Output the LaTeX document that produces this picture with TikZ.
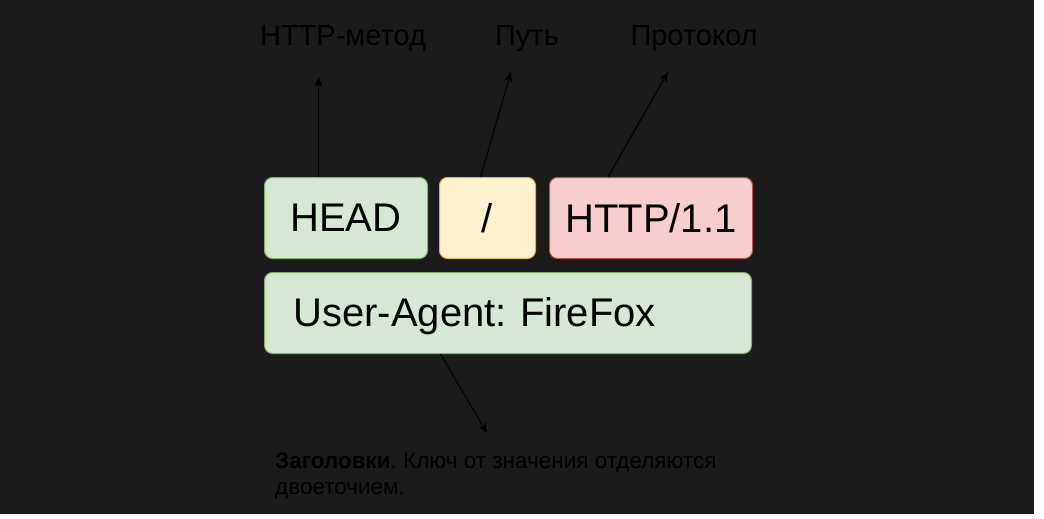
\documentclass[tikz,border=0pt]{standalone}
\usepackage{fontspec}
\setmainfont{Liberation Sans}
\usetikzlibrary{arrows.meta}
\frenchspacing
\definecolor{bgdark}{HTML}{1B1B1B}
\definecolor{gfill}{HTML}{D5E8D4}
\definecolor{gline}{HTML}{82B366}
\definecolor{yfill}{HTML}{FFF2CC}
\definecolor{yline}{HTML}{D6B656}
\definecolor{rfill}{HTML}{F8CECC}
\definecolor{rline}{HTML}{B85450}
\begin{document}
\begin{tikzpicture}[x=1pt,y=-1pt,
  box/.style={line width=1pt, rounded corners=8pt, inner sep=0pt, anchor=north west,
    minimum height=81pt, font=\fontsize{40}{48}\selectfont, text=black},
  greenbox/.style={box, draw=gline, fill=gfill},
  yellowbox/.style={box, draw=yline, fill=yfill},
  redbox/.style={box, draw=rline, fill=rfill},
  lbl/.style={anchor=base, inner sep=0pt, font=\fontsize{29}{34}\selectfont, text=black},
  arr/.style={draw=black, line width=1pt, -{Stealth[length=10pt,width=8pt,inset=3pt]}}]
\useasboundingbox (0,0) rectangle (1044,519);
\fill[white] (0,0) rectangle (1044,519);
\fill[bgdark] (0,0) rectangle (1034,514);

\node[greenbox, minimum width=163pt] (head) at (264,177) {HEAD};
\node[yellowbox, minimum width=96pt] (slash) at (439,177) {/};
\node[redbox, minimum width=203pt] (proto) at (549,177) {HTTP/1.1};
\node[greenbox, text width=429pt, align=left, inner xsep=29pt, text height=29pt, text depth=2pt] (ua) at (264,272) {User-Agent: FireFox};

\node[lbl] (lm) at (343,46) {HTTP-метод};
\node[lbl] (lp) at (527,46) {Путь};
\node[lbl] (lpr) at (694,46) {Протокол};

\coordinate (t1) at (318.5,77);
\coordinate (t2) at (511,72);
\coordinate (t3) at (668,72);
\coordinate (t4) at (487,433);

\draw[arr] (head.north -| t1) -- (t1);
\draw[arr] ([xshift=-7pt]slash.north) -- (t2);
\draw[arr] ([xshift=-43pt]proto.north) -- (t3);
\draw[arr] ([xshift=-67.5pt]ua.south) -- (t4);

\node[anchor=base west, align=left, inner sep=0pt, font=\fontsize{22.5}{26}\selectfont, text=black] (note) at (275,494)
  {\textbf{Заголовки}. Ключ от значения отделяются\\двоеточием.};
\end{tikzpicture}
\end{document}
